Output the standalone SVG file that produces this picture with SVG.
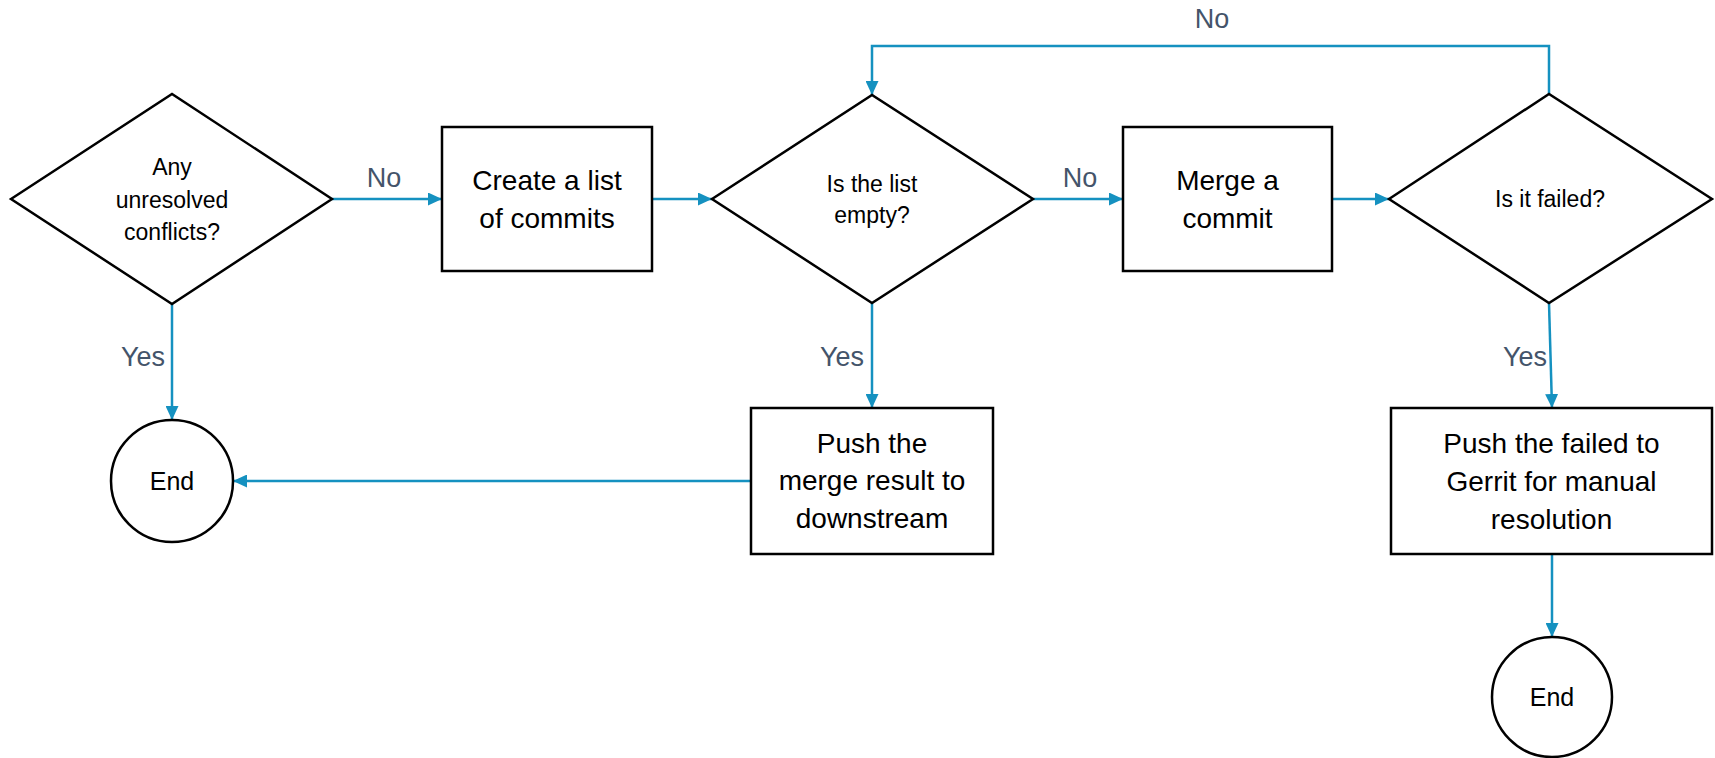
<svg xmlns="http://www.w3.org/2000/svg" width="1715" height="758" viewBox="0 0 1715 758">
<style>
.shape{fill:#ffffff;stroke:#000000;stroke-width:2.5}
.conn{fill:none;stroke:#1591c0;stroke-width:2.5}
.t{font-family:"Liberation Sans",Arial,sans-serif;fill:#000000;text-anchor:middle}
.box{font-size:28px}
.dia{font-size:23px}
.end{font-size:25px}
.lbl{font-family:"Liberation Sans",Arial,sans-serif;font-size:27px;fill:#44546a;text-anchor:middle}
</style>
<defs>
<marker id="arr" markerUnits="userSpaceOnUse" markerWidth="15" markerHeight="13" refX="14" refY="6.5" orient="auto">
<path d="M0,0 L14,6.5 L0,13 z" fill="#1591c0"/>
</marker>
</defs>
<rect width="1715" height="758" fill="#ffffff"/>
<g id="connectors">
<path class="conn" d="M172,304 V420" marker-end="url(#arr)"/>
<path class="conn" d="M332,199 H442" marker-end="url(#arr)"/>
<path class="conn" d="M652,199 H712" marker-end="url(#arr)"/>
<path class="conn" d="M1033,199 H1123" marker-end="url(#arr)"/>
<path class="conn" d="M1332,199 H1389" marker-end="url(#arr)"/>
<path class="conn" d="M1549,94 V46 H872 V95" marker-end="url(#arr)"/>
<path class="conn" d="M872,303 V408" marker-end="url(#arr)"/>
<path class="conn" d="M751,481 H233" marker-end="url(#arr)"/>
<path class="conn" d="M1549,303 L1552,408" marker-end="url(#arr)"/>
<path class="conn" d="M1552,554 V637" marker-end="url(#arr)"/>
<text class="lbl" x="384" y="187">No</text>
<text class="lbl" x="1080" y="187">No</text>
<text class="lbl" x="1212" y="28">No</text>
<text class="lbl" x="143" y="366">Yes</text>
<text class="lbl" x="842" y="366">Yes</text>
<text class="lbl" x="1525" y="366">Yes</text>
</g>
<g id="d1">
<polygon class="shape" points="11,199 172,94 332,199 172,304"/>
<text class="t dia" x="172" y="175">Any</text>
<text class="t dia" x="172" y="208">unresolved</text>
<text class="t dia" x="172" y="240">conflicts?</text>
</g>
<g id="r1">
<rect class="shape" x="442" y="127" width="210" height="144"/>
<text class="t box" x="547" y="190">Create a list</text>
<text class="t box" x="547" y="228">of commits</text>
</g>
<g id="d2">
<polygon class="shape" points="712,199 872,95 1033,199 872,303"/>
<text class="t dia" x="872" y="192">Is the list</text>
<text class="t dia" x="872" y="223">empty?</text>
</g>
<g id="r2">
<rect class="shape" x="1123" y="127" width="209" height="144"/>
<text class="t box" x="1227.5" y="190">Merge a</text>
<text class="t box" x="1227.5" y="228">commit</text>
</g>
<g id="d3">
<polygon class="shape" points="1389,199 1549,94 1712,199 1549,303"/>
<text class="t dia" x="1550" y="207">Is it failed?</text>
</g>
<g id="p1">
<rect class="shape" x="751" y="408" width="242" height="146"/>
<text class="t box" x="872" y="453">Push the</text>
<text class="t box" x="872" y="490">merge result to</text>
<text class="t box" x="872" y="528">downstream</text>
</g>
<g id="p2">
<rect class="shape" x="1391" y="408" width="321" height="146"/>
<text class="t box" x="1551.5" y="453">Push the failed to</text>
<text class="t box" x="1551.5" y="491">Gerrit for manual</text>
<text class="t box" x="1551.5" y="529">resolution</text>
</g>
<g id="e1">
<circle class="shape" cx="172" cy="481" r="61"/>
<text class="t end" x="172" y="490">End</text>
</g>
<g id="e2">
<circle class="shape" cx="1552" cy="697" r="60"/>
<text class="t end" x="1552" y="706">End</text>
</g>
</svg>
